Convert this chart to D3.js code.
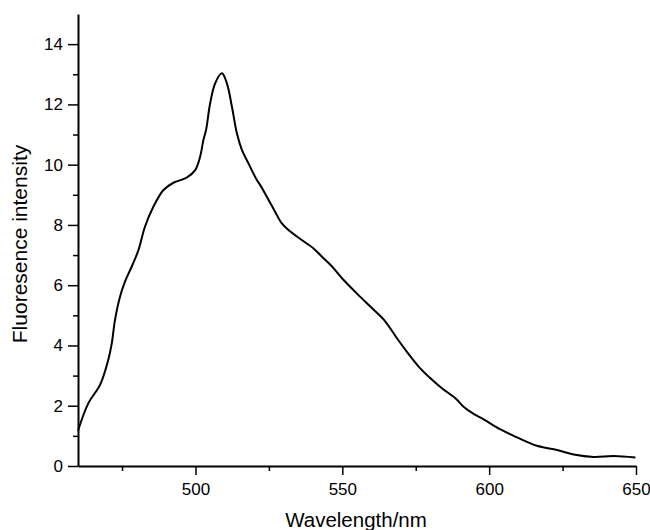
<!DOCTYPE html>
<html>
<head>
<meta charset="utf-8">
<script src="https://cdn.jsdelivr.net/npm/d3@7"></script>
<style>
  html, body { margin: 0; padding: 0; background: #fff; }
  svg { display: block; }
  text { font-family: "Liberation Sans", Arial, sans-serif; fill: #000; }
</style>
</head>
<body>
<svg id="chart" width="650" height="530"></svg>
<script>
// Data
const wavelength = [460, 463.5, 467.5, 470.3, 471.5, 472.6, 474.3, 476, 478.3, 480.6, 482.8, 485.7, 489.1, 492.5, 497, 499.9, 501.6, 502.7, 503.6, 505, 506.7, 509, 510.7, 512.4, 514.1, 515.8, 518, 520.9, 522, 524.9, 527.1, 529.4, 532.3, 536.2, 540.2, 543, 546.5, 549.9, 555, 560, 564.2, 568.6, 572, 576, 580, 583.9, 588.5, 591.3, 594.7, 598.1, 603.7, 609.5, 616.3, 623.1, 628.8, 635.6, 642.4, 649.8];
const intensity = [1.17, 2.08, 2.69, 3.52, 4.07, 4.85, 5.62, 6.12, 6.62, 7.17, 7.94, 8.61, 9.16, 9.40, 9.57, 9.82, 10.27, 10.82, 11.15, 12.04, 12.70, 13.03, 12.70, 11.93, 11.04, 10.49, 10.05, 9.49, 9.33, 8.83, 8.44, 8.05, 7.78, 7.50, 7.22, 6.95, 6.62, 6.23, 5.72, 5.25, 4.85, 4.24, 3.79, 3.30, 2.91, 2.58, 2.25, 1.97, 1.73, 1.55, 1.22, 0.95, 0.67, 0.53, 0.38, 0.30, 0.33, 0.28];
const xTicks = [500, 550, 600, 650];
const xMinorTicks = [475, 525, 575, 625];
const yTicks = [0, 2, 4, 6, 8, 10, 12, 14];
const yMinorTicks = [1, 3, 5, 7, 9, 11, 13];
const xTitle = "Wavelength/nm";
const yTitle = "Fluoresence intensity";

const svg = d3.select("#chart");
const x = d3.scaleLinear().domain([460, 650]).range([78, 636]);
const y = d3.scaleLinear().domain([0, 15]).range([466, 14]);

// minor ticks
svg.append("g").attr("transform", "translate(0,466)")
  .call(d3.axisBottom(x).tickValues(xMinorTicks).tickSize(5).tickFormat(""))
  .call(g => g.select(".domain").remove())
  .selectAll("line").attr("stroke-width", 1.5);
svg.append("g").attr("transform", "translate(78,0)")
  .call(d3.axisLeft(y).tickValues(yMinorTicks).tickSize(5).tickFormat(""))
  .call(g => g.select(".domain").remove())
  .selectAll("line").attr("stroke-width", 1.5);

// major axes
const xAxis = svg.append("g").attr("transform", "translate(0,466)")
  .call(d3.axisBottom(x).tickValues(xTicks).tickSize(9).tickSizeOuter(0).tickPadding(8).tickFormat(d3.format("d")));
const yAxis = svg.append("g").attr("transform", "translate(78,0)")
  .call(d3.axisLeft(y).tickValues(yTicks).tickSize(10).tickSizeOuter(0).tickPadding(5).tickFormat(d3.format("d")));
[xAxis, yAxis].forEach(a => {
  a.select(".domain").attr("stroke-width", 2);
  a.selectAll(".tick line").attr("stroke-width", 1.5);
  a.selectAll(".tick text").style("font-size", "17px").attr("font-family", null);
});

// curve
const pts = wavelength.map((w, i) => [w, intensity[i]]);
svg.append("path")
  .datum(pts)
  .attr("fill", "none")
  .attr("stroke", "#000")
  .attr("stroke-width", 2)
  .attr("d", d3.line().x(d => x(d[0])).y(d => y(d[1])).curve(d3.curveCatmullRom.alpha(0.5)));

// titles
svg.append("text").attr("x", 356).attr("y", 527).attr("text-anchor", "middle")
  .style("font-size", "20.5px").text(xTitle);
svg.append("text").attr("transform", "translate(27,244) rotate(-90)").attr("text-anchor", "middle")
  .style("font-size", "21px").text(yTitle);
</script>
</body>
</html>
